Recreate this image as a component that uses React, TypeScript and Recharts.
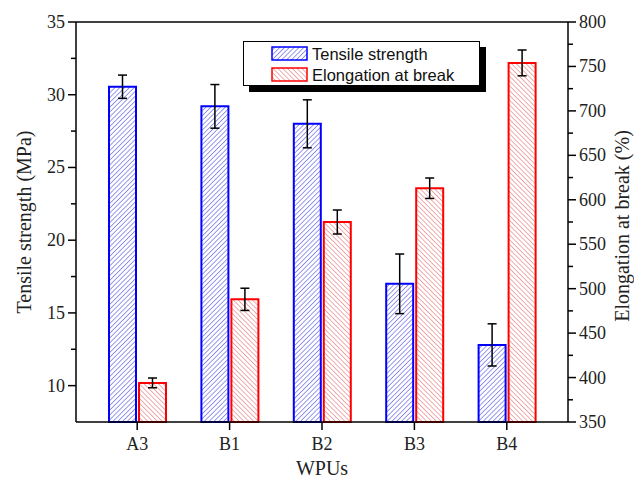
import React from 'react';
import { BarChart, Bar, XAxis, YAxis, ErrorBar, ReferenceLine } from 'recharts';

const categories = ['A3', 'B1', 'B2', 'B3', 'B4'];
const tensile = [30.55, 29.2, 28.0, 17.0, 12.8];
const tensileErr = [0.8, 1.5, 1.65, 2.05, 1.45];
const elongation = [394, 488, 575, 613, 754];
const elongationErr = [5.5, 12.5, 13.5, 11.5, 14.5];
const leftTicks = [10, 12.5, 15, 17.5, 20, 22.5, 25, 27.5, 30, 32.5, 35];
const rightTicks = [350, 375, 400, 425, 450, 475, 500, 525, 550, 575, 600, 625, 650, 675, 700, 725, 750, 775, 800];
const seriesNames = ['Tensile strength', 'Elongation at break'];

const data = categories.map((name, i) => ({
  name,
  tensile: tensile[i],
  tensileErr: tensileErr[i],
  elongation: elongation[i],
  elongationErr: elongationErr[i],
}));

const serif = 'Liberation Serif, Times New Roman, serif';
const sans = 'Liberation Sans, Arial, sans-serif';

function SideTick(props: any) {
  const { x, y, payload, side, step } = props;
  const major = payload.value % step === 0;
  const dir = side === 'left' ? -1 : 1;
  return (
    <g>
      <line x1={x} x2={x + dir * (major ? 8 : 5)} y1={y} y2={y} stroke="#000" strokeWidth={1.5} />
      {major && (
        <text
          x={x + dir * 11}
          y={y}
          textAnchor={side === 'left' ? 'end' : 'start'}
          dominantBaseline="central"
          fontFamily={serif}
          fontSize={18}
          fill="#222"
        >
          {payload.value}
        </text>
      )}
    </g>
  );
}

function Title(props: any) {
  const { tx, ty, rot, text } = props;
  return (
    <text
      x={tx}
      y={ty}
      transform={rot ? `rotate(${rot} ${tx} ${ty})` : undefined}
      textAnchor="middle"
      dominantBaseline="central"
      fontFamily={serif}
      fontSize={20}
      fill="#222"
    >
      {text}
    </text>
  );
}

function LegendBox() {
  const fills = ['url(#hatchBlue)', 'url(#hatchRed)'];
  const strokes = ['#0000ff', '#ff0000'];
  return (
    <div
      style={{
        position: 'absolute',
        left: 243,
        top: 41,
        width: 235,
        height: 43,
        border: '1px solid #000',
        background: '#fff',
        boxShadow: '6px 6px 0 #000',
        fontFamily: sans,
        fontSize: 16.5,
        color: '#111',
      }}
    >
      {seriesNames.map((n, i) => (
        <div key={n} style={{ position: 'absolute', left: 27, top: 4 + i * 20.5, height: 16, display: 'flex', alignItems: 'center' }}>
          <svg width={38} height={16} style={{ display: 'block' }}>
            <rect x={1} y={1} width={35} height={13} fill={fills[i]} stroke={strokes[i]} strokeWidth={1.5} />
          </svg>
          <span style={{ marginLeft: 3, lineHeight: '16px' }}>{n}</span>
        </div>
      ))}
    </div>
  );
}

export default function App() {
  return (
    <div style={{ position: 'absolute', left: 0, top: 0, width: 634, height: 481, background: '#fff' }}>
      <BarChart
        width={634}
        height={481}
        data={data}
        margin={{ top: 22, right: 5, bottom: 5, left: 5 }}
        barSize={27}
        barGap={3}
      >
        <defs>
          <pattern id="hatchBlue" width="3.4" height="3.4" patternUnits="userSpaceOnUse" patternTransform="rotate(45)">
            <rect width="3.4" height="3.4" fill="#ffffff" />
            <line x1="0" y1="0" x2="0" y2="3.4" stroke="#4545dd" strokeWidth="1.1" />
          </pattern>
          <pattern id="hatchRed" width="3.4" height="3.4" patternUnits="userSpaceOnUse" patternTransform="rotate(-45)">
            <rect width="3.4" height="3.4" fill="#ffffff" />
            <line x1="0" y1="0" x2="0" y2="3.4" stroke="#e06a6a" strokeWidth="1.1" />
          </pattern>
        </defs>
        <XAxis
          dataKey="name"
          padding={{ left: 15, right: 15 }}
          height={54}
          tickSize={8}
          tickMargin={7}
          axisLine={{ stroke: '#000', strokeWidth: 1.5 }}
          tickLine={{ stroke: '#000', strokeWidth: 1.5 }}
          tick={{ fill: '#222', fontSize: 18, fontFamily: serif }}
          label={<Title tx={322} ty={468} text="WPUs" />}
        />
        <YAxis
          yAxisId="left"
          domain={[7.5, 35]}
          ticks={leftTicks}
          interval={0}
          width={71}
          tickSize={0}
          tickMargin={0}
          tickLine={false}
          axisLine={{ stroke: '#000', strokeWidth: 1.5 }}
          tick={<SideTick side="left" step={5} />}
          label={<Title tx={24} ty={222} rot={-90} text="Tensile strength (MPa)" />}
        />
        <YAxis
          yAxisId="right"
          orientation="right"
          domain={[350, 800]}
          ticks={rightTicks}
          interval={0}
          width={61}
          tickSize={0}
          tickMargin={0}
          tickLine={false}
          axisLine={{ stroke: '#000', strokeWidth: 1.5 }}
          tick={<SideTick side="right" step={50} />}
          label={<Title tx={622} ty={226} rot={-90} text="Elongation at break (%)" />}
        />
        <ReferenceLine yAxisId="left" y={35} stroke="#000" strokeWidth={1.5} />
        <Bar
          yAxisId="left"
          dataKey="tensile"
          name={seriesNames[0]}
          fill="url(#hatchBlue)"
          stroke="#0000ff"
          strokeWidth={2}
          isAnimationActive={false}
        >
          <ErrorBar dataKey="tensileErr" direction="y" width={4.5} stroke="#000" strokeWidth={1.5} />
        </Bar>
        <Bar
          yAxisId="right"
          dataKey="elongation"
          name={seriesNames[1]}
          fill="url(#hatchRed)"
          stroke="#ff0000"
          strokeWidth={2}
          isAnimationActive={false}
        >
          <ErrorBar dataKey="elongationErr" direction="y" width={4.5} stroke="#000" strokeWidth={1.5} />
        </Bar>
      </BarChart>
      <LegendBox />
    </div>
  );
}
